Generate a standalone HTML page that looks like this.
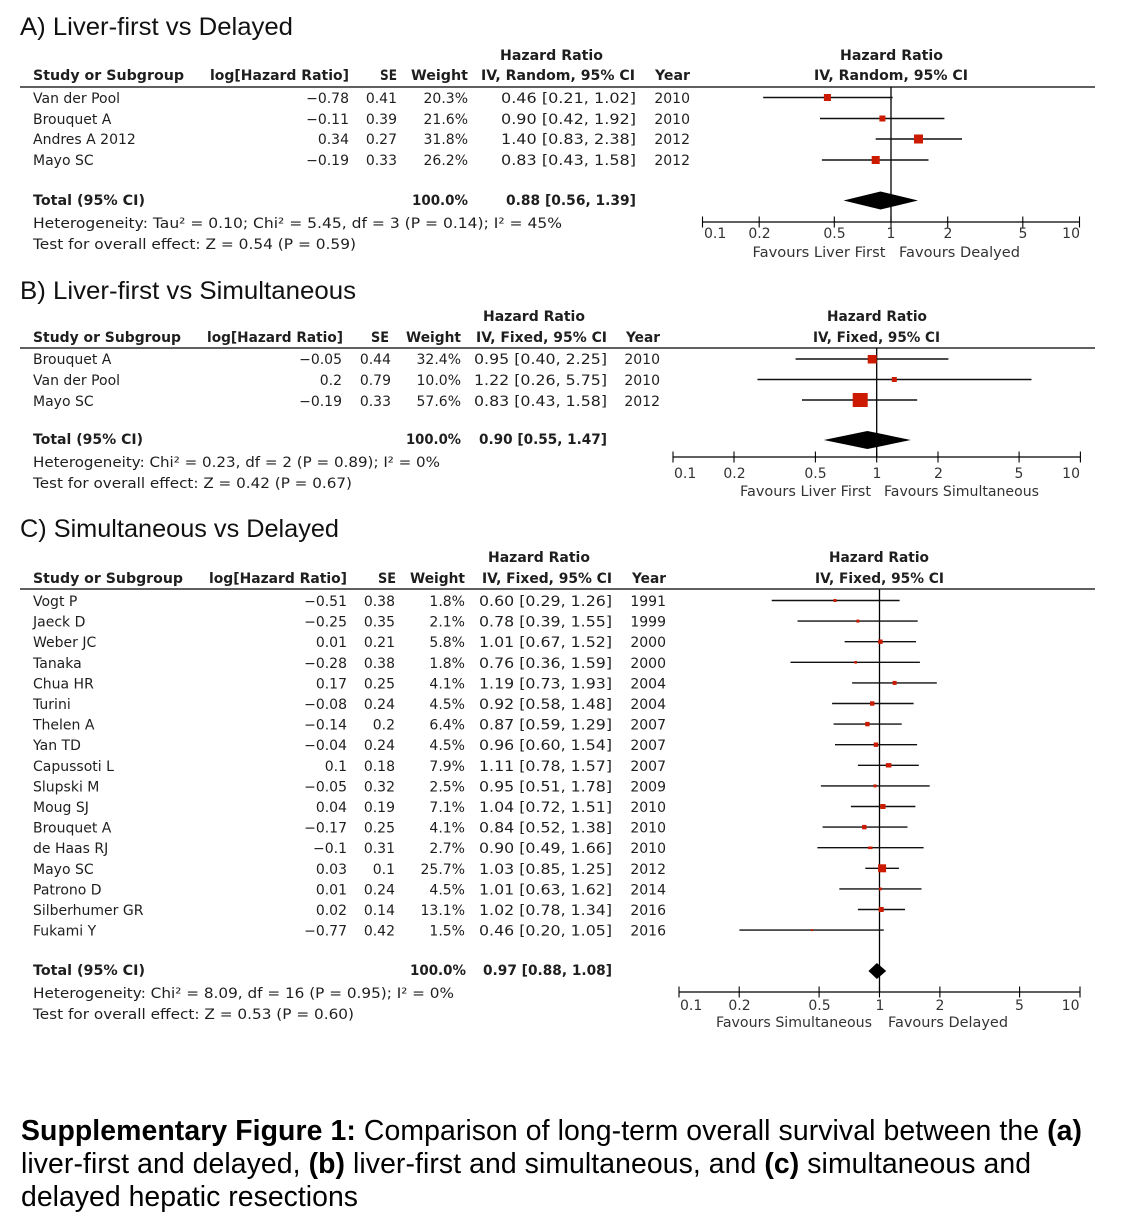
<!DOCTYPE html>
<html><head><meta charset="utf-8"><style>
html,body{margin:0;padding:0;background:#fff}
svg{display:block}
.t{font-family:"DejaVu Sans",sans-serif;font-size:14px;fill:#1e1e1e}
.b{font-family:"DejaVu Sans",sans-serif;font-weight:bold;font-size:14.5px;fill:#1e1e1e}
.ti{font-family:"Liberation Sans",sans-serif;font-size:25px;fill:#111}
.ax{font-family:"DejaVu Sans",sans-serif;font-size:14px;fill:#333}
.cap{font-family:"Liberation Sans",sans-serif;font-size:28.4px;fill:#000}
.bb{font-weight:bold}
.ln{stroke:#000;stroke-width:1.3;fill:none}
.ci{stroke:#111;stroke-width:1.4}
.sq{fill:#cc1a00}
</style></head><body>
<svg width="1126" height="1223" viewBox="0 0 1126 1223" xmlns="http://www.w3.org/2000/svg">
<rect width="1126" height="1223" fill="#fff"/>

<!-- ================= PANEL A ================= -->
<text class="ti" x="20" y="35" textLength="273" lengthAdjust="spacingAndGlyphs">A) Liver-first vs Delayed</text>
<text class="b" x="500" y="60" textLength="103" lengthAdjust="spacingAndGlyphs">Hazard Ratio</text>
<text class="b" x="33" y="80" textLength="151" lengthAdjust="spacingAndGlyphs">Study or Subgroup</text>
<text class="b" x="210" y="80" textLength="139" lengthAdjust="spacingAndGlyphs">log[Hazard Ratio]</text>
<text class="b" x="380" y="80" textLength="17" lengthAdjust="spacingAndGlyphs">SE</text>
<text class="b" x="411" y="80" textLength="57" lengthAdjust="spacingAndGlyphs">Weight</text>
<text class="b" x="481" y="80" textLength="154" lengthAdjust="spacingAndGlyphs">IV, Random, 95% CI</text>
<text class="b" x="655" y="80" textLength="35" lengthAdjust="spacingAndGlyphs">Year</text>
<text class="b" x="840" y="60" textLength="103" lengthAdjust="spacingAndGlyphs">Hazard Ratio</text>
<text class="b" x="814" y="80" textLength="154" lengthAdjust="spacingAndGlyphs">IV, Random, 95% CI</text>
<line class="ln" x1="20" y1="87" x2="1095" y2="87" stroke-width="1.5"/>

<g class="t">
<text x="33" y="103">Van der Pool</text><text x="349" y="103" text-anchor="end">−0.78</text><text x="397" y="103" text-anchor="end">0.41</text><text x="468" y="103" text-anchor="end">20.3%</text><text x="501" y="103" textLength="135" lengthAdjust="spacingAndGlyphs">0.46 [0.21, 1.02]</text><text x="690" y="103" text-anchor="end">2010</text>
<text x="33" y="124">Brouquet A</text><text x="349" y="124" text-anchor="end">−0.11</text><text x="397" y="124" text-anchor="end">0.39</text><text x="468" y="124" text-anchor="end">21.6%</text><text x="501" y="124" textLength="135" lengthAdjust="spacingAndGlyphs">0.90 [0.42, 1.92]</text><text x="690" y="124" text-anchor="end">2010</text>
<text x="33" y="144">Andres A 2012</text><text x="349" y="144" text-anchor="end">0.34</text><text x="397" y="144" text-anchor="end">0.27</text><text x="468" y="144" text-anchor="end">31.8%</text><text x="501" y="144" textLength="135" lengthAdjust="spacingAndGlyphs">1.40 [0.83, 2.38]</text><text x="690" y="144" text-anchor="end">2012</text>
<text x="33" y="165">Mayo SC</text><text x="349" y="165" text-anchor="end">−0.19</text><text x="397" y="165" text-anchor="end">0.33</text><text x="468" y="165" text-anchor="end">26.2%</text><text x="501" y="165" textLength="135" lengthAdjust="spacingAndGlyphs">0.83 [0.43, 1.58]</text><text x="690" y="165" text-anchor="end">2012</text>
<text x="33" y="228" textLength="529" lengthAdjust="spacingAndGlyphs">Heterogeneity: Tau² = 0.10; Chi² = 5.45, df = 3 (P = 0.14); I² = 45%</text>
<text x="33" y="249" textLength="323" lengthAdjust="spacingAndGlyphs">Test for overall effect: Z = 0.54 (P = 0.59)</text>
</g>
<text class="b" x="33" y="205" textLength="112" lengthAdjust="spacingAndGlyphs">Total (95% CI)</text>
<text class="b" x="412" y="205" textLength="56" lengthAdjust="spacingAndGlyphs">100.0%</text>
<text class="b" x="506" y="205" textLength="130" lengthAdjust="spacingAndGlyphs">0.88 [0.56, 1.39]</text>

<!-- plot A -->
<line class="ln" x1="891" y1="87" x2="891" y2="222" stroke-width="1.2"/>
<line class="ci" x1="763.2" y1="97.5" x2="892.6" y2="97.5"/>
<line class="ci" x1="820.0" y1="118.5" x2="944.4" y2="118.5"/>
<line class="ci" x1="875.7" y1="139" x2="962.0" y2="139"/>
<line class="ci" x1="821.9" y1="160" x2="928.5" y2="160"/>
<rect class="sq" x="823.9" y="94" width="7" height="7"/>
<rect class="sq" x="879.4" y="115.5" width="6" height="6"/>
<rect class="sq" x="914" y="134.5" width="9" height="9"/>
<rect class="sq" x="871.7" y="156" width="8" height="8"/>
<polygon points="843.5,200.5 880.5,191.5 918,200.5 880.5,209.5" fill="#000"/>
<line class="ln" x1="702.5" y1="222" x2="1079.5" y2="222" stroke-width="1.1"/>
<g stroke="#000" stroke-width="1.1">
<line x1="702.5" y1="216.5" x2="702.5" y2="227.5"/><line x1="759.2" y1="216.5" x2="759.2" y2="227.5"/><line x1="834.3" y1="216.5" x2="834.3" y2="227.5"/><line x1="891" y1="216.5" x2="891" y2="227.5"/><line x1="947.7" y1="216.5" x2="947.7" y2="227.5"/><line x1="1022.8" y1="216.5" x2="1022.8" y2="227.5"/><line x1="1079.5" y1="216.5" x2="1079.5" y2="227.5"/>
</g>
<g class="ax">
<text x="704" y="238">0.1</text><text x="759.5" y="238" text-anchor="middle">0.2</text><text x="834.5" y="238" text-anchor="middle">0.5</text><text x="891" y="238" text-anchor="middle">1</text><text x="948" y="238" text-anchor="middle">2</text><text x="1023" y="238" text-anchor="middle">5</text><text x="1080" y="238" text-anchor="end">10</text>
<text x="752.5" y="257" textLength="133" lengthAdjust="spacingAndGlyphs">Favours Liver First</text>
<text x="899" y="257" textLength="121" lengthAdjust="spacingAndGlyphs">Favours Dealyed</text>
</g>

<!-- ================= PANEL B ================= -->
<text class="ti" x="20" y="299" textLength="336" lengthAdjust="spacingAndGlyphs">B) Liver-first vs Simultaneous</text>
<text class="b" x="483" y="321" textLength="102" lengthAdjust="spacingAndGlyphs">Hazard Ratio</text>
<text class="b" x="33" y="342" textLength="148" lengthAdjust="spacingAndGlyphs">Study or Subgroup</text>
<text class="b" x="207" y="342" textLength="136" lengthAdjust="spacingAndGlyphs">log[Hazard Ratio]</text>
<text class="b" x="371" y="342" textLength="18" lengthAdjust="spacingAndGlyphs">SE</text>
<text class="b" x="406" y="342" textLength="55" lengthAdjust="spacingAndGlyphs">Weight</text>
<text class="b" x="476" y="342" textLength="131" lengthAdjust="spacingAndGlyphs">IV, Fixed, 95% CI</text>
<text class="b" x="626" y="342" textLength="34" lengthAdjust="spacingAndGlyphs">Year</text>
<text class="b" x="827" y="321" textLength="100" lengthAdjust="spacingAndGlyphs">Hazard Ratio</text>
<text class="b" x="813" y="342" textLength="127" lengthAdjust="spacingAndGlyphs">IV, Fixed, 95% CI</text>
<line class="ln" x1="20" y1="348" x2="1095" y2="348" stroke-width="1.5"/>

<g class="t">
<text x="33" y="364">Brouquet A</text><text x="342" y="364" text-anchor="end">−0.05</text><text x="391" y="364" text-anchor="end">0.44</text><text x="461" y="364" text-anchor="end">32.4%</text><text x="474" y="364" textLength="133" lengthAdjust="spacingAndGlyphs">0.95 [0.40, 2.25]</text><text x="660" y="364" text-anchor="end">2010</text>
<text x="33" y="385">Van der Pool</text><text x="342" y="385" text-anchor="end">0.2</text><text x="391" y="385" text-anchor="end">0.79</text><text x="461" y="385" text-anchor="end">10.0%</text><text x="474" y="385" textLength="133" lengthAdjust="spacingAndGlyphs">1.22 [0.26, 5.75]</text><text x="660" y="385" text-anchor="end">2010</text>
<text x="33" y="406">Mayo SC</text><text x="342" y="406" text-anchor="end">−0.19</text><text x="391" y="406" text-anchor="end">0.33</text><text x="461" y="406" text-anchor="end">57.6%</text><text x="474" y="406" textLength="133" lengthAdjust="spacingAndGlyphs">0.83 [0.43, 1.58]</text><text x="660" y="406" text-anchor="end">2012</text>
<text x="33" y="467" textLength="407" lengthAdjust="spacingAndGlyphs">Heterogeneity: Chi² = 0.23, df = 2 (P = 0.89); I² = 0%</text>
<text x="33" y="488" textLength="319" lengthAdjust="spacingAndGlyphs">Test for overall effect: Z = 0.42 (P = 0.67)</text>
</g>
<text class="b" x="33" y="444" textLength="110" lengthAdjust="spacingAndGlyphs">Total (95% CI)</text>
<text class="b" x="406" y="444" textLength="55" lengthAdjust="spacingAndGlyphs">100.0%</text>
<text class="b" x="479" y="444" textLength="128" lengthAdjust="spacingAndGlyphs">0.90 [0.55, 1.47]</text>

<!-- plot B -->
<line class="ln" x1="876.7" y1="348" x2="876.7" y2="457" stroke-width="1.2"/>
<line class="ci" x1="795.6" y1="359" x2="948.4" y2="359"/>
<line class="ci" x1="757.5" y1="379.5" x2="1031.5" y2="379.5"/>
<line class="ci" x1="802.0" y1="400" x2="917.2" y2="400"/>
<rect class="sq" x="867.7" y="355" width="9" height="8.5"/>
<rect class="sq" x="891.8" y="377" width="5" height="5"/>
<rect class="sq" x="852.7" y="393" width="15" height="14"/>
<polygon points="823.8,440 867.4,431 910.8,440 867.4,449" fill="#000"/>
<line class="ln" x1="673" y1="457" x2="1080.4" y2="457" stroke-width="1.1"/>
<g stroke="#000" stroke-width="1.1">
<line x1="673" y1="451.5" x2="673" y2="462.5"/><line x1="734" y1="451.5" x2="734" y2="462.5"/><line x1="815.4" y1="451.5" x2="815.4" y2="462.5"/><line x1="876.7" y1="451.5" x2="876.7" y2="462.5"/><line x1="938" y1="451.5" x2="938" y2="462.5"/><line x1="1019.1" y1="451.5" x2="1019.1" y2="462.5"/><line x1="1080.4" y1="451.5" x2="1080.4" y2="462.5"/>
</g>
<g class="ax">
<text x="674" y="478">0.1</text><text x="734.5" y="478" text-anchor="middle">0.2</text><text x="815.5" y="478" text-anchor="middle">0.5</text><text x="877" y="478" text-anchor="middle">1</text><text x="938.5" y="478" text-anchor="middle">2</text><text x="1019" y="478" text-anchor="middle">5</text><text x="1080" y="478" text-anchor="end">10</text>
<text x="740" y="496" textLength="131" lengthAdjust="spacingAndGlyphs">Favours Liver First</text>
<text x="884" y="496" textLength="155" lengthAdjust="spacingAndGlyphs">Favours Simultaneous</text>
</g>

<!-- ================= PANEL C ================= -->
<text class="ti" x="20" y="537" textLength="319" lengthAdjust="spacingAndGlyphs">C) Simultaneous vs Delayed</text>
<text class="b" x="488" y="562" textLength="102" lengthAdjust="spacingAndGlyphs">Hazard Ratio</text>
<text class="b" x="33" y="583" textLength="150" lengthAdjust="spacingAndGlyphs">Study or Subgroup</text>
<text class="b" x="209" y="583" textLength="138" lengthAdjust="spacingAndGlyphs">log[Hazard Ratio]</text>
<text class="b" x="378" y="583" textLength="18" lengthAdjust="spacingAndGlyphs">SE</text>
<text class="b" x="410" y="583" textLength="55" lengthAdjust="spacingAndGlyphs">Weight</text>
<text class="b" x="482" y="583" textLength="130" lengthAdjust="spacingAndGlyphs">IV, Fixed, 95% CI</text>
<text class="b" x="632" y="583" textLength="34" lengthAdjust="spacingAndGlyphs">Year</text>
<text class="b" x="829" y="562" textLength="100" lengthAdjust="spacingAndGlyphs">Hazard Ratio</text>
<text class="b" x="815" y="583" textLength="129" lengthAdjust="spacingAndGlyphs">IV, Fixed, 95% CI</text>
<line class="ln" x1="20" y1="589" x2="1095" y2="589" stroke-width="1.5"/>

<g class="t">
<text x="33" y="606">Vogt P</text><text x="347" y="606" text-anchor="end">−0.51</text><text x="395" y="606" text-anchor="end">0.38</text><text x="465" y="606" text-anchor="end">1.8%</text><text x="479" y="606" textLength="133" lengthAdjust="spacingAndGlyphs">0.60 [0.29, 1.26]</text><text x="666" y="606" text-anchor="end">1991</text>
<text x="33" y="626.6">Jaeck D</text><text x="347" y="626.6" text-anchor="end">−0.25</text><text x="395" y="626.6" text-anchor="end">0.35</text><text x="465" y="626.6" text-anchor="end">2.1%</text><text x="479" y="626.6" textLength="133" lengthAdjust="spacingAndGlyphs">0.78 [0.39, 1.55]</text><text x="666" y="626.6" text-anchor="end">1999</text>
<text x="33" y="647.2">Weber JC</text><text x="347" y="647.2" text-anchor="end">0.01</text><text x="395" y="647.2" text-anchor="end">0.21</text><text x="465" y="647.2" text-anchor="end">5.8%</text><text x="479" y="647.2" textLength="133" lengthAdjust="spacingAndGlyphs">1.01 [0.67, 1.52]</text><text x="666" y="647.2" text-anchor="end">2000</text>
<text x="33" y="667.8">Tanaka</text><text x="347" y="667.8" text-anchor="end">−0.28</text><text x="395" y="667.8" text-anchor="end">0.38</text><text x="465" y="667.8" text-anchor="end">1.8%</text><text x="479" y="667.8" textLength="133" lengthAdjust="spacingAndGlyphs">0.76 [0.36, 1.59]</text><text x="666" y="667.8" text-anchor="end">2000</text>
<text x="33" y="688.4">Chua HR</text><text x="347" y="688.4" text-anchor="end">0.17</text><text x="395" y="688.4" text-anchor="end">0.25</text><text x="465" y="688.4" text-anchor="end">4.1%</text><text x="479" y="688.4" textLength="133" lengthAdjust="spacingAndGlyphs">1.19 [0.73, 1.93]</text><text x="666" y="688.4" text-anchor="end">2004</text>
<text x="33" y="709">Turini</text><text x="347" y="709" text-anchor="end">−0.08</text><text x="395" y="709" text-anchor="end">0.24</text><text x="465" y="709" text-anchor="end">4.5%</text><text x="479" y="709" textLength="133" lengthAdjust="spacingAndGlyphs">0.92 [0.58, 1.48]</text><text x="666" y="709" text-anchor="end">2004</text>
<text x="33" y="729.6">Thelen A</text><text x="347" y="729.6" text-anchor="end">−0.14</text><text x="395" y="729.6" text-anchor="end">0.2</text><text x="465" y="729.6" text-anchor="end">6.4%</text><text x="479" y="729.6" textLength="133" lengthAdjust="spacingAndGlyphs">0.87 [0.59, 1.29]</text><text x="666" y="729.6" text-anchor="end">2007</text>
<text x="33" y="750.2">Yan TD</text><text x="347" y="750.2" text-anchor="end">−0.04</text><text x="395" y="750.2" text-anchor="end">0.24</text><text x="465" y="750.2" text-anchor="end">4.5%</text><text x="479" y="750.2" textLength="133" lengthAdjust="spacingAndGlyphs">0.96 [0.60, 1.54]</text><text x="666" y="750.2" text-anchor="end">2007</text>
<text x="33" y="770.8">Capussoti L</text><text x="347" y="770.8" text-anchor="end">0.1</text><text x="395" y="770.8" text-anchor="end">0.18</text><text x="465" y="770.8" text-anchor="end">7.9%</text><text x="479" y="770.8" textLength="133" lengthAdjust="spacingAndGlyphs">1.11 [0.78, 1.57]</text><text x="666" y="770.8" text-anchor="end">2007</text>
<text x="33" y="791.4">Slupski M</text><text x="347" y="791.4" text-anchor="end">−0.05</text><text x="395" y="791.4" text-anchor="end">0.32</text><text x="465" y="791.4" text-anchor="end">2.5%</text><text x="479" y="791.4" textLength="133" lengthAdjust="spacingAndGlyphs">0.95 [0.51, 1.78]</text><text x="666" y="791.4" text-anchor="end">2009</text>
<text x="33" y="812">Moug SJ</text><text x="347" y="812" text-anchor="end">0.04</text><text x="395" y="812" text-anchor="end">0.19</text><text x="465" y="812" text-anchor="end">7.1%</text><text x="479" y="812" textLength="133" lengthAdjust="spacingAndGlyphs">1.04 [0.72, 1.51]</text><text x="666" y="812" text-anchor="end">2010</text>
<text x="33" y="832.6">Brouquet A</text><text x="347" y="832.6" text-anchor="end">−0.17</text><text x="395" y="832.6" text-anchor="end">0.25</text><text x="465" y="832.6" text-anchor="end">4.1%</text><text x="479" y="832.6" textLength="133" lengthAdjust="spacingAndGlyphs">0.84 [0.52, 1.38]</text><text x="666" y="832.6" text-anchor="end">2010</text>
<text x="33" y="853.2">de Haas RJ</text><text x="347" y="853.2" text-anchor="end">−0.1</text><text x="395" y="853.2" text-anchor="end">0.31</text><text x="465" y="853.2" text-anchor="end">2.7%</text><text x="479" y="853.2" textLength="133" lengthAdjust="spacingAndGlyphs">0.90 [0.49, 1.66]</text><text x="666" y="853.2" text-anchor="end">2010</text>
<text x="33" y="873.8">Mayo SC</text><text x="347" y="873.8" text-anchor="end">0.03</text><text x="395" y="873.8" text-anchor="end">0.1</text><text x="465" y="873.8" text-anchor="end">25.7%</text><text x="479" y="873.8" textLength="133" lengthAdjust="spacingAndGlyphs">1.03 [0.85, 1.25]</text><text x="666" y="873.8" text-anchor="end">2012</text>
<text x="33" y="894.4">Patrono D</text><text x="347" y="894.4" text-anchor="end">0.01</text><text x="395" y="894.4" text-anchor="end">0.24</text><text x="465" y="894.4" text-anchor="end">4.5%</text><text x="479" y="894.4" textLength="133" lengthAdjust="spacingAndGlyphs">1.01 [0.63, 1.62]</text><text x="666" y="894.4" text-anchor="end">2014</text>
<text x="33" y="915">Silberhumer GR</text><text x="347" y="915" text-anchor="end">0.02</text><text x="395" y="915" text-anchor="end">0.14</text><text x="465" y="915" text-anchor="end">13.1%</text><text x="479" y="915" textLength="133" lengthAdjust="spacingAndGlyphs">1.02 [0.78, 1.34]</text><text x="666" y="915" text-anchor="end">2016</text>
<text x="33" y="935.6">Fukami Y</text><text x="347" y="935.6" text-anchor="end">−0.77</text><text x="395" y="935.6" text-anchor="end">0.42</text><text x="465" y="935.6" text-anchor="end">1.5%</text><text x="479" y="935.6" textLength="133" lengthAdjust="spacingAndGlyphs">0.46 [0.20, 1.05]</text><text x="666" y="935.6" text-anchor="end">2016</text>
<text x="33" y="998" textLength="421" lengthAdjust="spacingAndGlyphs">Heterogeneity: Chi² = 8.09, df = 16 (P = 0.95); I² = 0%</text>
<text x="33" y="1019" textLength="321" lengthAdjust="spacingAndGlyphs">Test for overall effect: Z = 0.53 (P = 0.60)</text>
</g>
<text class="b" x="33" y="975" textLength="112" lengthAdjust="spacingAndGlyphs">Total (95% CI)</text>
<text class="b" x="410" y="975" textLength="56" lengthAdjust="spacingAndGlyphs">100.0%</text>
<text class="b" x="483" y="975" textLength="129" lengthAdjust="spacingAndGlyphs">0.97 [0.88, 1.08]</text>

<!-- plot C -->
<line class="ln" x1="879.5" y1="589" x2="879.5" y2="992" stroke-width="1.2"/>
<g class="ci">
<line x1="771.7" y1="600.5" x2="899.6" y2="600.5"/>
<line x1="797.5" y1="621.1" x2="917.7" y2="621.1"/>
<line x1="844.6" y1="641.7" x2="916.0" y2="641.7"/>
<line x1="790.5" y1="662.3" x2="919.9" y2="662.3"/>
<line x1="852.1" y1="682.9" x2="936.8" y2="682.9"/>
<line x1="832.1" y1="703.5" x2="913.6" y2="703.5"/>
<line x1="833.6" y1="724.1" x2="901.7" y2="724.1"/>
<line x1="835.0" y1="744.7" x2="917.1" y2="744.7"/>
<line x1="857.9" y1="765.3" x2="918.8" y2="765.3"/>
<line x1="820.9" y1="785.9" x2="929.7" y2="785.9"/>
<line x1="850.9" y1="806.5" x2="915.4" y2="806.5"/>
<line x1="822.6" y1="827.1" x2="907.5" y2="827.1"/>
<line x1="817.4" y1="847.7" x2="923.6" y2="847.7"/>
<line x1="865.3" y1="868.3" x2="898.9" y2="868.3"/>
<line x1="839.3" y1="888.9" x2="921.5" y2="888.9"/>
<line x1="857.9" y1="909.5" x2="905.0" y2="909.5"/>
<line x1="739.4" y1="930.1" x2="883.8" y2="930.1"/>
</g>
<g class="sq">
<rect x="833.5" y="599" width="3" height="3"/>
<rect x="856.4" y="619.6" width="3" height="3"/>
<rect x="878.2" y="639.5" width="4.4" height="4.4"/>
<rect x="854.3" y="661" width="2.6" height="2.6"/>
<rect x="892.6" y="680.9" width="4" height="4"/>
<rect x="870" y="701.3" width="4.4" height="4.4"/>
<rect x="865.2" y="721.9" width="4.4" height="4.4"/>
<rect x="873.7" y="742.5" width="4.4" height="4.4"/>
<rect x="885.8" y="763.1" width="5.6" height="4.4"/>
<rect x="873.5" y="784.4" width="3" height="3"/>
<rect x="880.3" y="804" width="5.2" height="5"/>
<rect x="862.1" y="824.9" width="4.4" height="4.4"/>
<rect x="868.1" y="846.5" width="4.4" height="2.6"/>
<rect x="878.1" y="864.3" width="8" height="8"/>
<rect x="879" y="887.5" width="2.8" height="2.8"/>
<rect x="878.7" y="907" width="5" height="5"/>
<rect x="810.9" y="929.1" width="2" height="2"/>
</g>
<polygon points="868.4,971 876.9,963 886.2,971 876.9,979" fill="#000"/>
<line class="ln" x1="679" y1="992" x2="1080" y2="992" stroke-width="1.1"/>
<g stroke="#000" stroke-width="1.1">
<line x1="679" y1="986.5" x2="679" y2="997.5"/><line x1="739.2" y1="986.5" x2="739.2" y2="997.5"/><line x1="819.1" y1="986.5" x2="819.1" y2="997.5"/><line x1="879.5" y1="986.5" x2="879.5" y2="997.5"/><line x1="939.9" y1="986.5" x2="939.9" y2="997.5"/><line x1="1019.6" y1="986.5" x2="1019.6" y2="997.5"/><line x1="1080" y1="986.5" x2="1080" y2="997.5"/>
</g>
<g class="ax">
<text x="680" y="1010">0.1</text><text x="739.5" y="1010" text-anchor="middle">0.2</text><text x="819.5" y="1010" text-anchor="middle">0.5</text><text x="880" y="1010" text-anchor="middle">1</text><text x="940" y="1010" text-anchor="middle">2</text><text x="1019.5" y="1010" text-anchor="middle">5</text><text x="1079.5" y="1010" text-anchor="end">10</text>
<text x="716" y="1027" textLength="156" lengthAdjust="spacingAndGlyphs">Favours Simultaneous</text>
<text x="888" y="1027" textLength="120" lengthAdjust="spacingAndGlyphs">Favours Delayed</text>
</g>

<!-- ================= CAPTION ================= -->
<text class="cap" x="21" y="1140" textLength="1061" lengthAdjust="spacing"><tspan class="bb">Supplementary Figure 1:</tspan> Comparison of long-term overall survival between the <tspan class="bb">(a)</tspan></text>
<text class="cap" x="21" y="1173" textLength="1010" lengthAdjust="spacing">liver-first and delayed, <tspan class="bb">(b)</tspan> liver-first and simultaneous, and <tspan class="bb">(c)</tspan> simultaneous and</text>
<text class="cap" x="21" y="1206" textLength="337" lengthAdjust="spacing">delayed hepatic resections</text>
</svg>
</body></html>
